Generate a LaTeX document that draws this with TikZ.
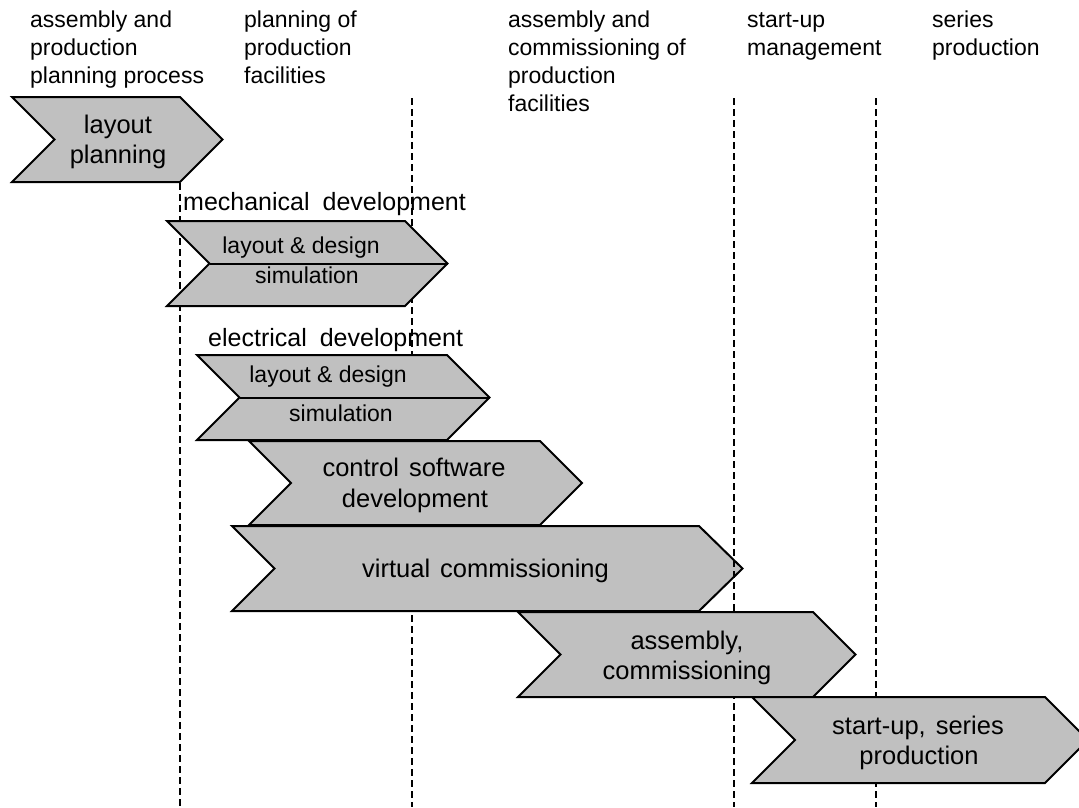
\documentclass[tikz,border=0pt]{standalone}
\usepackage{fontspec}
\setmainfont{Liberation Sans}
\definecolor{chevgray}{HTML}{C0C0C0}
\newcommand\chevbigfont{\fontsize{25.5}{30}\selectfont\setlength{\spaceskip}{10pt}}
\newcommand\chevhdrfont{\fontsize{25}{30}\selectfont\setlength{\spaceskip}{13pt}}
\begin{document}
\begin{tikzpicture}[x=1pt,y=-1pt,
  chev/.style={draw=black, fill=chevgray, line width=2pt, line join=miter},
  divider/.style={draw=black, line width=2pt},
  guide/.style={draw=black, line width=1.3pt, dash pattern=on 6.5pt off 4.5pt},
  lbl/.style={inner sep=0pt, font=\fontsize{23}{27.6}\selectfont},
  big/.style={inner sep=0pt, font=\chevbigfont},
  hdr/.style={inner sep=0pt, font=\chevhdrfont}]
\clip (0,0) rectangle (1079,807);
\fill[white] (0,0) rectangle (1079,807);
% phase labels
\node[lbl, anchor=base west] (p1a) at (30,27.6) {assembly and};
\node[lbl, anchor=base west] (p1b) at (30,55.4) {production};
\node[lbl, anchor=base west] (p1c) at (30,83.2) {planning process};
\node[lbl, anchor=base west] (p2a) at (244,27.6) {planning of};
\node[lbl, anchor=base west] (p2b) at (244,55.4) {production};
\node[lbl, anchor=base west] (p2c) at (244,83.2) {facilities};
\node[lbl, anchor=base west] (p3a) at (508,27.6) {assembly and};
\node[lbl, anchor=base west] (p3b) at (508,55.4) {commissioning of};
\node[lbl, anchor=base west] (p3c) at (508,83.2) {production};
\node[lbl, anchor=base west] (p3d) at (508,111) {facilities};
\node[lbl, anchor=base west] (p4a) at (747,27.6) {start-up};
\node[lbl, anchor=base west] (p4b) at (747,55.4) {management};
\node[lbl, anchor=base west] (p5a) at (932,27.6) {series};
\node[lbl, anchor=base west] (p5b) at (932,55.4) {production};
% dashed phase borders
\coordinate (g1t) at (180,183); \coordinate (g1b) at (180,807);
\coordinate (g2t) at (412,98);  \coordinate (g2b) at (412,807);
\coordinate (g3t) at (734,98);  \coordinate (g3b) at (734,807);
\coordinate (g4t) at (876,98);  \coordinate (g4b) at (876,807);
\draw[guide] (g1t) -- (g1b);
\draw[guide] (g2t) -- (g2b);
\draw[guide] (g4t) -- (g4b);
% layout planning
\draw[chev] (12,97) -- (180,97) -- (222.5,139.5) -- (180,182) -- (12,182) -- (54.5,139.5) -- cycle;
\node[big, anchor=base] (lp1) at (118,133) {layout};
\node[big, anchor=base] (lp2) at (118,163) {planning};
% mechanical development
\node[hdr, anchor=base west] (mech) at (183,210) {mechanical development};
\draw[chev] (167,221) -- (405,221) -- (447.5,263.5) -- (405,306) -- (167,306) -- (209.5,263.5) -- cycle;
\draw[divider] (209.5,263.5) -- (447.5,263.5);
\node[lbl, anchor=base] (m1) at (301,253) {layout \& design};
\node[lbl, anchor=base] (m2) at (307,283) {simulation};
% electrical development
\node[hdr, anchor=base west] (elec) at (208,346.5) {electrical development};
\draw[chev] (197,355) -- (447,355) -- (489.5,397.5) -- (447,440) -- (197,440) -- (239.5,397.5) -- cycle;
\draw[divider] (239.5,397.5) -- (489.5,397.5);
\node[lbl, anchor=base] (e1) at (328,382) {layout \& design};
\node[lbl, anchor=base] (e2) at (341,421) {simulation};
% control software development
\draw[chev] (249,441) -- (540,441) -- (582,483) -- (540,525) -- (249,525) -- (291,483) -- cycle;
\node[big, anchor=base] (c1) at (414,476) {control software};
\node[big, anchor=base] (c2) at (415,507) {development};
% virtual commissioning
\draw[chev] (232,526) -- (699,526) -- (742.5,568.5) -- (699,611) -- (232,611) -- (274.5,568.5) -- cycle;
\node[big, anchor=base west] (vc) at (362,577) {virtual commissioning};
\draw[guide] (g3t) -- (g3b);
% assembly, commissioning
\draw[chev] (518,612) -- (813,612) -- (855.5,654.5) -- (813,697) -- (518,697) -- (560.5,654.5) -- cycle;
\node[big, anchor=base] (a1) at (687,649) {assembly,};
\node[big, anchor=base] (a2) at (687,679) {commissioning};
% start-up, series production
\draw[chev] (752,697) -- (1045,697) -- (1088,740) -- (1045,783) -- (752,783) -- (795,740) -- cycle;
\node[big, anchor=base] (s1) at (918,734) {start-up, series};
\node[big, anchor=base] (s2) at (919,764) {production};
\end{tikzpicture}
\end{document}
